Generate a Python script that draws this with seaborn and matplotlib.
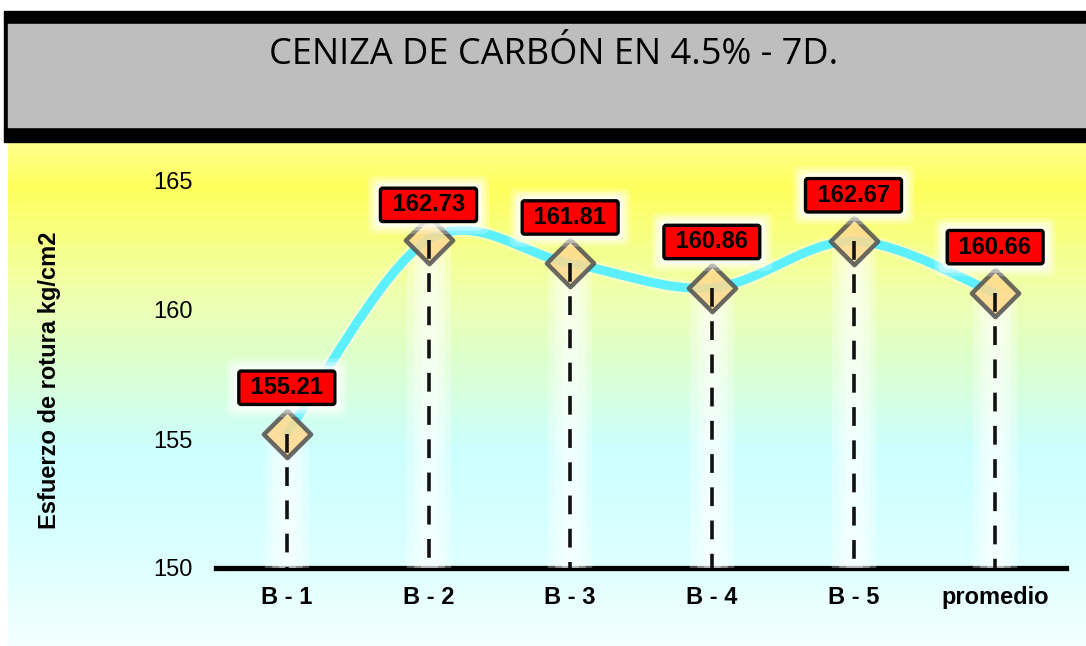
import numpy as np
import pandas as pd
import seaborn as sns
import matplotlib.pyplot as plt
from matplotlib.path import Path
from matplotlib.patches import PathPatch, Rectangle
from matplotlib.colors import LinearSegmentedColormap

categories = ["B - 1", "B - 2", "B - 3", "B - 4", "B - 5", "promedio"]
values = [155.21, 162.73, 161.81, 160.86, 162.67, 160.66]
y_ticks = [150, 155, 160, 165]
label_offsets = [33, 25, 33, 33, 33, 33]  # points above each marker
title = "CENIZA DE CARBÓN EN 4.5% - 7D."
y_label = "Esfuerzo de rotura kg/cm2"

df = pd.DataFrame({"cat": categories, "value": values, "pos": range(len(categories))})

sns.set_theme(style="white")
plt.rcParams["font.family"] = ["Liberation Sans", "DejaVu Sans"]

W, H = 1086, 646
fig = plt.figure(figsize=(W / 100, H / 100), dpi=100)

# gradient background under the title band
bg = fig.add_axes([8 / W, 0, 1 - 8 / W, (H - 142) / H])
grad = LinearSegmentedColormap.from_list("bg", [
    (0.0, "#ffff8e"), (0.09, "#ffff5c"), (0.30, "#efffae"),
    (0.43, "#ddffcc"), (0.61, "#ccffff"), (0.80, "#daffff"), (1.0, "#f3ffff")])
bg.imshow(np.linspace(0, 1, 256).reshape(-1, 1), cmap=grad, aspect="auto",
          extent=[0, 1, 0, 1])
bg.set_axis_off()

# title band
fig.patches.append(Rectangle((4 / W, (H - 142) / H), 1, 131 / H,
                             transform=fig.transFigure, color="black", zorder=0))
fig.patches.append(Rectangle((8 / W, (H - 127) / H), 1, 103 / H,
                             transform=fig.transFigure, color="#bebebe", zorder=1))
fig.text(554 / W, (H - 55) / H, title, ha="center", va="center", fontsize=26,
         family=["Open Sans", "DejaVu Sans"], color="black", zorder=2)

ax = fig.add_axes([216 / W, (H - 568) / H, 850 / W, 387 / H])
ax.patch.set_alpha(0)

x = df["pos"].to_numpy(dtype=float)
y = df["value"].to_numpy()

# soft white columns behind drop lines
for lw, a in [(32, 0.3), (22, 0.35), (12, 0.35)]:
    ax.vlines(x, 150, y, colors="white", lw=lw, alpha=a, zorder=1)

# smoothed line (Catmull-Rom as cubic Bezier)
px = np.concatenate([[x[0]], x, [x[-1]]])
py = np.concatenate([[y[0]], y, [y[-1]]])
verts = [(x[0], y[0])]
codes = [Path.MOVETO]
for i in range(1, len(x)):
    c1 = (px[i] + (px[i + 1] - px[i - 1]) / 6, py[i] + (py[i + 1] - py[i - 1]) / 6)
    c2 = (px[i + 1] - (px[i + 2] - px[i]) / 6, py[i + 1] - (py[i + 2] - py[i]) / 6)
    verts += [c1, c2, (px[i + 1], py[i + 1])]
    codes += [Path.CURVE4] * 3
path = Path(verts, codes)
ax.add_patch(PathPatch(path, fill=False, ec="#ffffff", lw=10, alpha=0.35, zorder=2,
                       capstyle="round"))
ax.add_patch(PathPatch(path, fill=False, ec="#5cf0ff", lw=6.5, zorder=3,
                       capstyle="round"))

sns.scatterplot(data=df, x="pos", y="value", marker="D", s=580, color="#ffd98c",
                edgecolor="#505050", linewidth=3.2, alpha=0.85, zorder=4, ax=ax,
                legend=False)

# drop lines start at the marker and run down to the axis
ax.vlines(x, y, 150, colors="#111111", lw=2.6, linestyles=(0, (5.2, 4.0)), zorder=5)

for xi, yi, off in zip(x, y, label_offsets):
    for pad, a in [(0.75, 0.25), (0.6, 0.4), (0.45, 0.6)]:
        ax.annotate(f" {yi:.2f} ", (xi, yi), xytext=(0, off), textcoords="offset points",
                    ha="center", va="center", fontsize=17, weight="bold", color="none",
                    bbox=dict(boxstyle=f"round,pad={pad},rounding_size=0.3", fc="white",
                              ec="none", alpha=a),
                    zorder=6, annotation_clip=False)
    ax.annotate(f" {yi:.2f} ", (xi, yi), xytext=(0, off), textcoords="offset points",
                ha="center", va="center", fontsize=17, weight="bold", color="black",
                bbox=dict(boxstyle="round,pad=0.22,rounding_size=0.1", fc="#ff0000",
                          ec="black", lw=2.4),
                zorder=7, annotation_clip=False)

ax.set_xlim(-0.5, 5.5)
ax.set_ylim(150, 165)
ax.set_xticks(x)
ax.set_xticklabels(categories, fontsize=17, fontweight="bold")
ax.set_yticks(y_ticks)
ax.set_yticklabels([str(t) for t in y_ticks], fontsize=17)
ax.tick_params(axis="both", length=0, colors="black")
ax.tick_params(axis="x", pad=13)
ax.tick_params(axis="y", pad=17)
ax.set_xlabel("")
ax.set_ylabel("")
for side in ["top", "right", "left"]:
    ax.spines[side].set_visible(False)
ax.spines["bottom"].set_color("black")
ax.spines["bottom"].set_linewidth(3.8)
ax.spines["bottom"].set_zorder(0.5)

fig.text(50 / W, (H - 380) / H, y_label, rotation=90, ha="center", va="center",
         fontsize=17, fontweight="bold", color="black")

fig.savefig("out.png", dpi=100)
